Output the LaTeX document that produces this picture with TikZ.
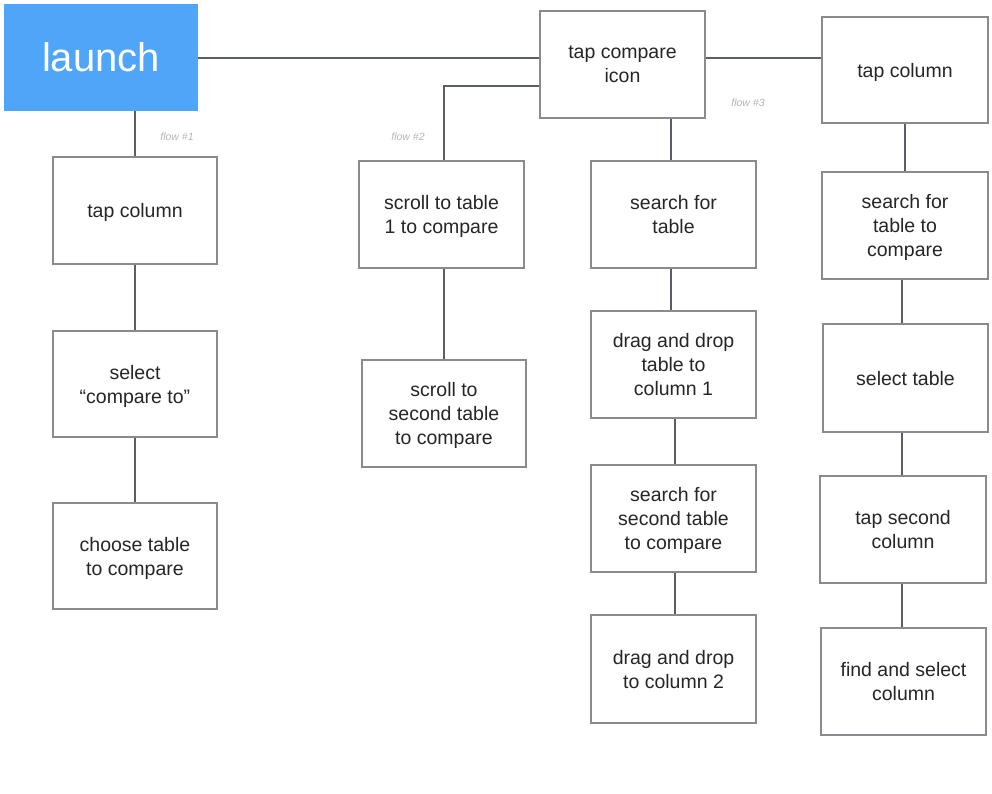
\documentclass[tikz,border=0pt]{standalone}
\usepackage{fontspec}
\setmainfont{Liberation Sans}
\definecolor{launchblue}{HTML}{4FA6F9}
\definecolor{boxgrey}{HTML}{8A8B90}
\definecolor{linegrey}{HTML}{5A5E66}
\definecolor{flowgrey}{HTML}{B4B4B8}
\tikzset{
  stepbox/.style={draw=boxgrey, line width=2pt, fill=white, align=center,
    font=\fontsize{19.5}{24}\selectfont, text=black!85, inner sep=2pt, text depth=0pt},
  conn/.style={draw=linegrey, line width=2pt},
  flowlbl/.style={text=flowgrey, font=\fontsize{10.5}{12}\selectfont\itshape},
  launchbox/.style={fill=launchblue, draw=none, text=white, font=\fontsize{40}{42}\selectfont}
}
\begin{document}
\begin{tikzpicture}[x=1pt,y=-1pt]
\useasboundingbox (0,0) rectangle (992,793);
\coordinate (j2) at (444,86);
% nodes
\node[launchbox, minimum width=194pt, minimum height=107pt] (launch) at (101,57.5) {launch};
\node[stepbox, minimum width=165pt, minimum height=107pt] (cmp) at (622.5,64.5) {tap compare\\icon};
\node[stepbox, minimum width=166pt, minimum height=106pt] (r1) at (905,70) {tap column};
% flow 1
\node[stepbox, minimum width=164pt, minimum height=107pt] (a1) at (135,210.5) {tap column};
\node[stepbox, minimum width=164pt, minimum height=106pt] (a2) at (135,384) {select\\“compare to”};
\node[stepbox, minimum width=164pt, minimum height=106pt] (a3) at (135,556) {choose table\\to compare};
% flow 2
\node[stepbox, minimum width=165pt, minimum height=107pt] (b1) at (441.5,214.5) {scroll to table\\1 to compare};
\node[stepbox, minimum width=164pt, minimum height=107pt] (b2) at (444,413.5) {scroll to\\second table\\to compare};
% flow 3
\node[stepbox, minimum width=165pt, minimum height=107pt] (c1) at (673.5,214.5) {search for\\table};
\node[stepbox, minimum width=165pt, minimum height=107pt] (c2) at (673.5,364.5) {drag and drop\\table to\\column 1};
\node[stepbox, minimum width=165pt, minimum height=107pt] (c3) at (673.5,518.5) {search for\\second table\\to compare};
\node[stepbox, minimum width=165pt, minimum height=108pt] (c4) at (673.5,669) {drag and drop\\to column 2};
% right column
\node[stepbox, minimum width=166pt, minimum height=107pt] (r2) at (905,225.5) {search for\\table to\\compare};
\node[stepbox, minimum width=165pt, minimum height=108pt] (r3) at (905.5,378) {select table};
\node[stepbox, minimum width=166pt, minimum height=107pt] (r4) at (903,529.5) {tap second\\column};
\node[stepbox, minimum width=165pt, minimum height=107pt] (r5) at (903.5,681.5) {find and select\\column};
% flow labels
\node[flowlbl] (fl1) at (177,137) {flow \#1};
\node[flowlbl] (fl2) at (408,137) {flow \#2};
\node[flowlbl] (fl3) at (748,103) {flow \#3};
% connectors
\draw[conn] (launch.east) -- (launch.east -| cmp.west);
\draw[conn] (cmp.east |- launch.east) -- (r1.west |- launch.east);
\draw[conn] (j2 -| cmp.west) -- (j2) -- (j2 |- b1.north);
\draw[conn] (launch.south -| a1.north) -- (a1.north);
\draw[conn] (a1.south) -- (a2.north);
\draw[conn] (a2.south) -- (a3.north);
\draw[conn] (j2 |- b1.south) -- (j2 |- b2.north);
\draw[conn] (671,0 |- cmp.south) -- (671,0 |- c1.north);
\draw[conn] (671,0 |- c1.south) -- (671,0 |- c2.north);
\draw[conn] (675,0 |- c2.south) -- (675,0 |- c3.north);
\draw[conn] (675,0 |- c3.south) -- (675,0 |- c4.north);
\draw[conn] (r1.south) -- (r2.north);
\draw[conn] (902,0 |- r2.south) -- (902,0 |- r3.north);
\draw[conn] (902,0 |- r3.south) -- (902,0 |- r4.north);
\draw[conn] (902,0 |- r4.south) -- (902,0 |- r5.north);
\end{tikzpicture}
\end{document}
